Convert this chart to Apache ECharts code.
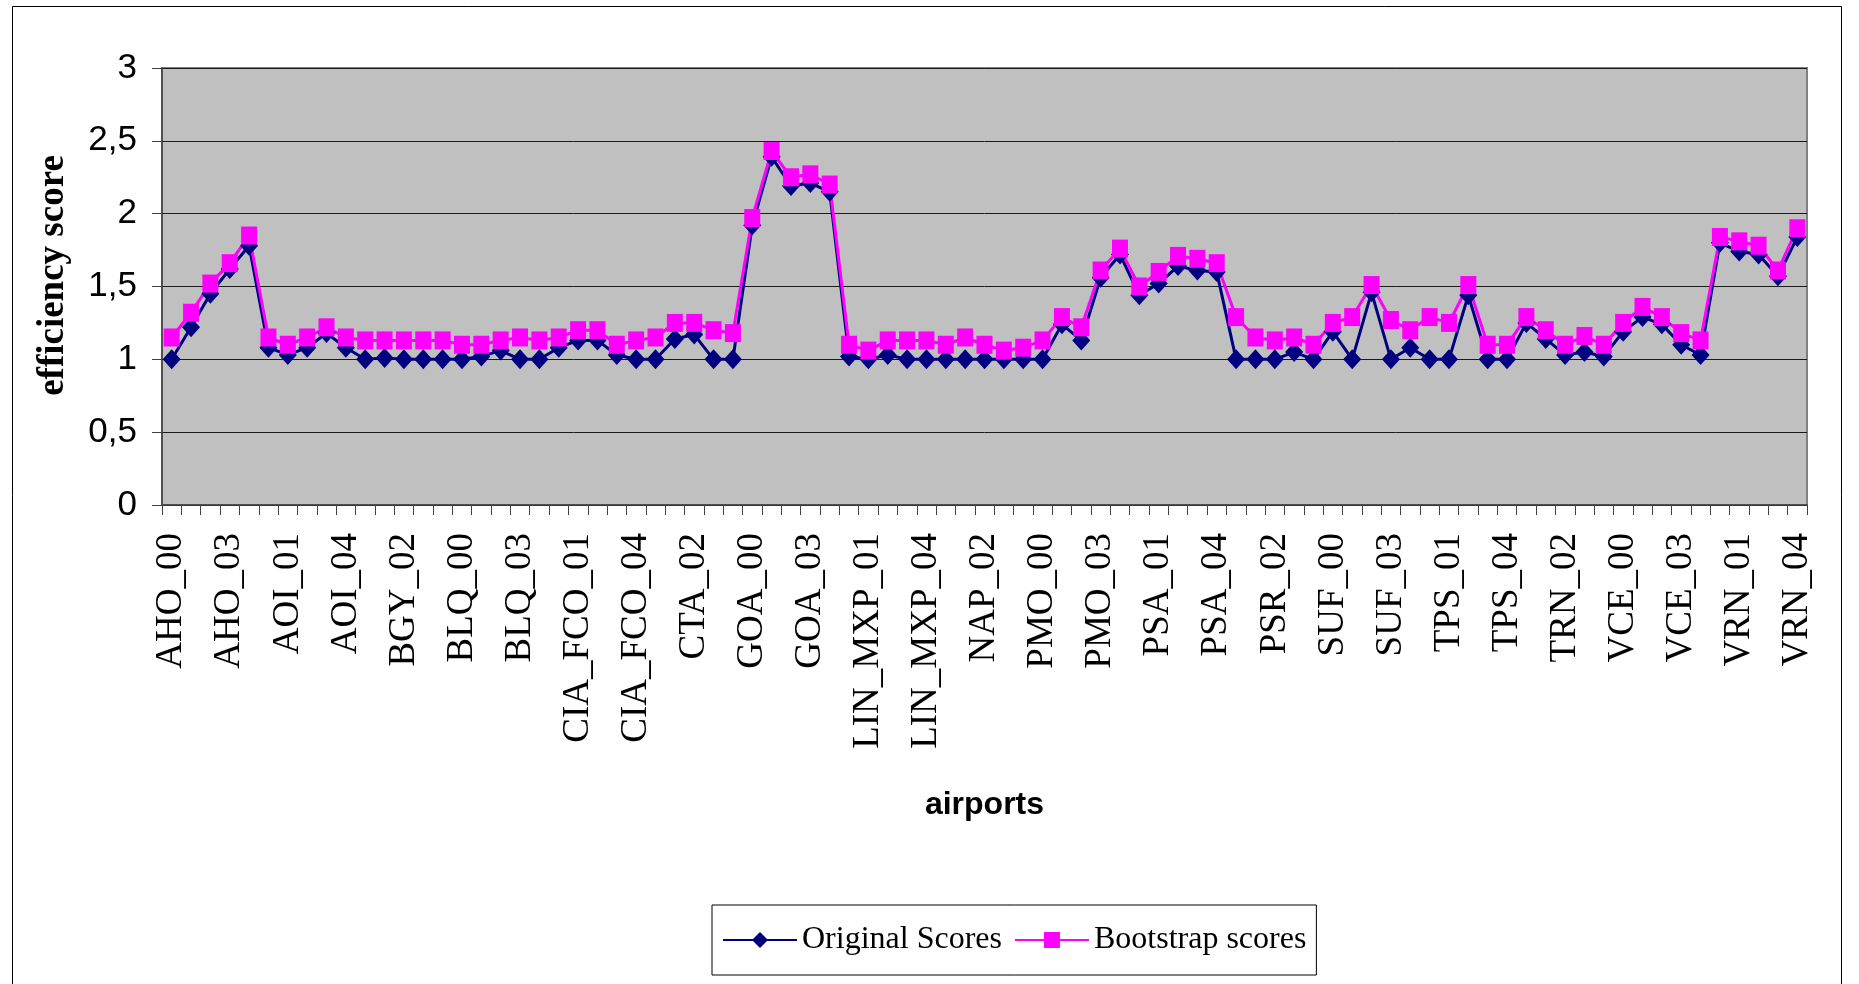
<!DOCTYPE html>
<html>
<head>
<meta charset="utf-8">
<script src="https://cdn.jsdelivr.net/npm/echarts@6/dist/echarts.min.js"></script>
<style>
html,body{margin:0;padding:0;background:#fff;}
#chart{width:1859px;height:984px;}
</style>
</head>
<body>
<div id="chart"></div>
<script>
const airports = ['AHO','AOI','BGY','BLQ','CIA_FCO','CTA','GOA','LIN_MXP','NAP','PMO','PSA','PSR','SUF','TPS','TRN','VCE','VRN'];
const years = ['00','01','02','03','04'];
const categories = [];
airports.forEach(a => years.forEach(y => categories.push(a + '_' + y)));

const originalScores = [
  1.00,1.22,1.45,1.62,1.78,
  1.08,1.03,1.08,1.18,1.08,
  1.00,1.01,1.00,1.00,1.00,
  1.00,1.02,1.06,1.00,1.00,
  1.08,1.13,1.13,1.03,1.00,
  1.00,1.14,1.17,1.00,1.00,
  1.92,2.39,2.19,2.21,2.15,
  1.02,1.00,1.03,1.00,1.00,
  1.00,1.00,1.00,1.00,1.00,
  1.00,1.24,1.13,1.56,1.72,
  1.44,1.52,1.64,1.61,1.60,
  1.00,1.00,1.00,1.05,1.00,
  1.19,1.00,1.46,1.00,1.08,
  1.00,1.00,1.44,1.00,1.00,
  1.25,1.14,1.03,1.05,1.02,
  1.19,1.29,1.24,1.10,1.03,
  1.80,1.74,1.72,1.57,1.84
];
const bootstrapScores = [
  1.15,1.32,1.52,1.66,1.85,
  1.15,1.10,1.15,1.22,1.15,
  1.13,1.13,1.13,1.13,1.13,
  1.10,1.10,1.13,1.15,1.13,
  1.15,1.20,1.20,1.10,1.13,
  1.15,1.25,1.25,1.20,1.18,
  1.97,2.43,2.25,2.27,2.20,
  1.10,1.06,1.13,1.13,1.13,
  1.10,1.15,1.10,1.06,1.08,
  1.13,1.29,1.22,1.61,1.76,
  1.50,1.60,1.71,1.69,1.66,
  1.29,1.15,1.13,1.15,1.10,
  1.25,1.29,1.51,1.27,1.20,
  1.29,1.25,1.51,1.10,1.10,
  1.29,1.20,1.10,1.16,1.10,
  1.25,1.36,1.29,1.18,1.13,
  1.84,1.81,1.78,1.61,1.90
];
const yTickValues = [0, 0.5, 1, 1.5, 2, 2.5, 3];
const yTickLabels = ['0', '0,5', '1', '1,5', '2', '2,5', '3'];

const chart = echarts.init(document.getElementById('chart'), null, {renderer: 'canvas'});
chart.setOption({
  animation: false,
  backgroundColor: '#ffffff',
  graphic: [{
    type: 'rect', z: -10, silent: true,
    shape: {x: 12.5, y: 6.5, width: 1829, height: 1000},
    style: {fill: '#ffffff', stroke: '#000000', lineWidth: 1}
  }],
  grid: {
    left: 162, right: 52, top: 68, bottom: 479,
    show: true, backgroundColor: '#C0C0C0', borderColor: '#808080', borderWidth: 2
  },
  legend: {
    left: 712, top: 905,
    orient: 'horizontal',
    backgroundColor: '#ffffff',
    borderColor: '#000000', borderWidth: 1,
    padding: [19, 10, 19, 10],
    itemGap: 12,
    itemWidth: 74, itemHeight: 20,
    textStyle: {fontFamily: 'Liberation Serif', fontSize: 32, color: '#000'},
    data: ['Original Scores', 'Bootstrap scores']
  },
  xAxis: {
    type: 'category',
    data: categories,
    boundaryGap: true,
    name: 'airports',
    nameLocation: 'middle',
    nameGap: 284,
    nameTextStyle: {fontFamily: 'Liberation Sans', fontWeight: 'bold', fontSize: 32, color: '#000'},
    axisLine: {lineStyle: {color: '#404040', width: 1.5}},
    axisTick: {show: true, interval: 0, length: 10, lineStyle: {color: '#404040'}},
    axisLabel: {
      interval: 2, rotate: 90, margin: 28,
      fontFamily: 'Liberation Serif', fontSize: 37, color: '#000'
    },
    splitLine: {show: false}
  },
  yAxis: {
    type: 'value',
    min: 0, max: 3, interval: 0.5,
    name: 'efficiency score',
    nameLocation: 'middle',
    nameRotate: 90,
    nameGap: 90,
    nameTextStyle: {fontFamily: 'Liberation Serif', fontWeight: 'bold', fontSize: 37, color: '#000', padding: [0, 0, 0, 22]},
    axisLine: {show: true, lineStyle: {color: '#404040', width: 1.5}},
    axisTick: {show: true, length: 10, lineStyle: {color: '#404040'}},
    axisLabel: {
      margin: 25,
      fontFamily: 'Liberation Sans', fontSize: 35, color: '#000',
      formatter: v => {
        const i = yTickValues.indexOf(+v.toFixed(2));
        return i >= 0 ? yTickLabels[i] : '';
      }
    },
    splitLine: {show: true, lineStyle: {color: '#1a1a1a', width: 1}}
  },
  series: [
    {
      name: 'Original Scores',
      type: 'line',
      data: originalScores,
      showAllSymbol: true,
      symbol: 'diamond',
      symbolSize: [18, 20],
      color: '#000080',
      lineStyle: {color: '#000080', width: 3},
      itemStyle: {color: '#000080'}
    },
    {
      name: 'Bootstrap scores',
      type: 'line',
      data: bootstrapScores,
      showAllSymbol: true,
      symbol: 'rect',
      symbolSize: [16, 18],
      color: '#FF00FF',
      lineStyle: {color: '#FF00FF', width: 3},
      itemStyle: {color: '#FF00FF'}
    }
  ]
});
</script>
</body>
</html>
